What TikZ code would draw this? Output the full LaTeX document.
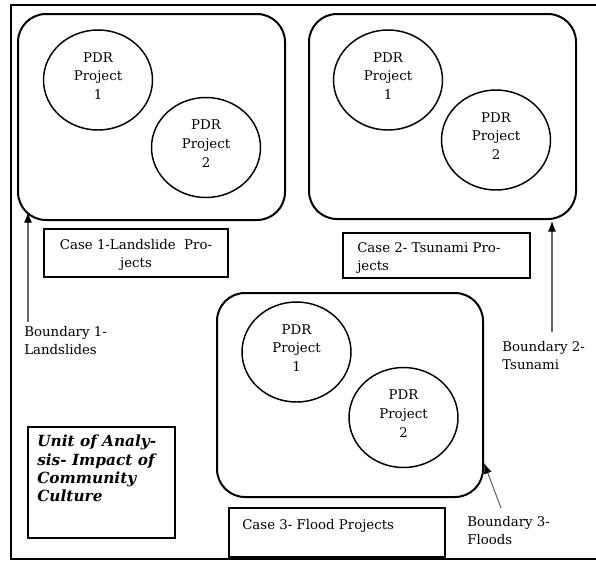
\documentclass[tikz,border=0pt]{standalone}
\usepackage{fontspec}
\setmainfont{DejaVu Serif}
\usetikzlibrary{arrows.meta,shapes.geometric}
\newcommand{\lowpad}{\rule[-6pt]{0pt}{0pt}}
\begin{document}
\begin{tikzpicture}[x=0.75pt,y=-0.75pt,
  txt/.style={font=\fontsize{10}{13.5}\selectfont, inner sep=0pt},
  rbox/.style={draw, line width=1.5pt, rounded corners=21pt, inner sep=0pt},
  proj/.style={draw, ellipse, line width=1.1pt, minimum width=81.75pt, minimum height=75pt,
    inner sep=0pt, align=center, font=\fontsize{10}{14}\selectfont},
  casebox/.style={draw, line width=0.8pt, inner sep=0pt},
  lbl/.style={txt, align=left, anchor=north west},
  bnd/.style={draw=black!60, line width=0.8pt, -{Latex[black,length=8pt,width=6pt]}}
]
\useasboundingbox (0,0) rectangle (596,562);
% outer frame (open on the right)
\draw[line width=1.5pt] (596,5) -- (11,5) -- (11,559) -- (596,559);

% Case 1
\node[rbox, minimum width=200.25pt, minimum height=154.5pt] (box1) at (151.5,117) {};
\node[proj] (p11) at (98,80) {PDR\\Project\\1\lowpad};
\node[proj] (p12) at (206,147.5) {PDR\\Project\\2\lowpad};
\node[casebox, minimum width=138pt, minimum height=36pt] (case1) at (136,253) {};
\node[txt, align=center] (case1t) at (136,255) {Case 1-Landslide\ \ Pro-\\jects};

% Case 2
\node[rbox, minimum width=200.25pt, minimum height=153.75pt] (box2) at (442.5,116.5) {};
\node[proj] (p21) at (388,80) {PDR\\Project\\1\lowpad};
\node[proj] (p22) at (496,140) {PDR\\Project\\2\lowpad};
\node[casebox, minimum width=140.25pt, minimum height=33.75pt] (case2) at (436.5,255.5) {};
\node[lbl] (case2t) at (357,242) {Case 2- Tsunami Pro-\\jects};

% Case 3
\node[rbox, minimum width=199.5pt, minimum height=153pt] (box3) at (350,395) {};
\node[proj] (p31) at (296.5,352) {PDR\\Project\\1\lowpad};
\node[proj] (p32) at (403.5,417.5) {PDR\\Project\\2\lowpad};
\node[casebox, minimum width=162pt, minimum height=36.75pt] (case3) at (337,532.5) {};
\node[lbl] (case3t) at (242,519) {Case 3- Flood Projects};

% Unit of analysis
\node[casebox, minimum width=110.25pt, minimum height=83.25pt] (unit) at (101.5,482.5) {};
\node[lbl, font=\fontsize{11.5}{13.75}\selectfont\bfseries\itshape] (unitt) at (37,435)
  {Unit of Analy-\\sis- Impact of\\Community\\Culture};

% Boundary labels
\node[lbl] (b1) at (24,326) {Boundary 1-\\Landslides};
\node[lbl] (b2) at (502,341) {Boundary 2-\\Tsunami};
\node[lbl] (b3) at (467,516) {Boundary 3-\\Floods};

% arrow tips on the boundaries
\coordinate (t1) at (28,212);
\coordinate (t2) at (552,221);
\coordinate (t3) at (484,463);
\coordinate (s3) at (501,508);

\draw[bnd] (t1 |- b1.north) ++(0,-4) -- (t1);
\draw[bnd] (t2 |- b2.north) ++(0,-9) -- (t2);
\draw[bnd] (s3) -- (t3);
\end{tikzpicture}
\end{document}
